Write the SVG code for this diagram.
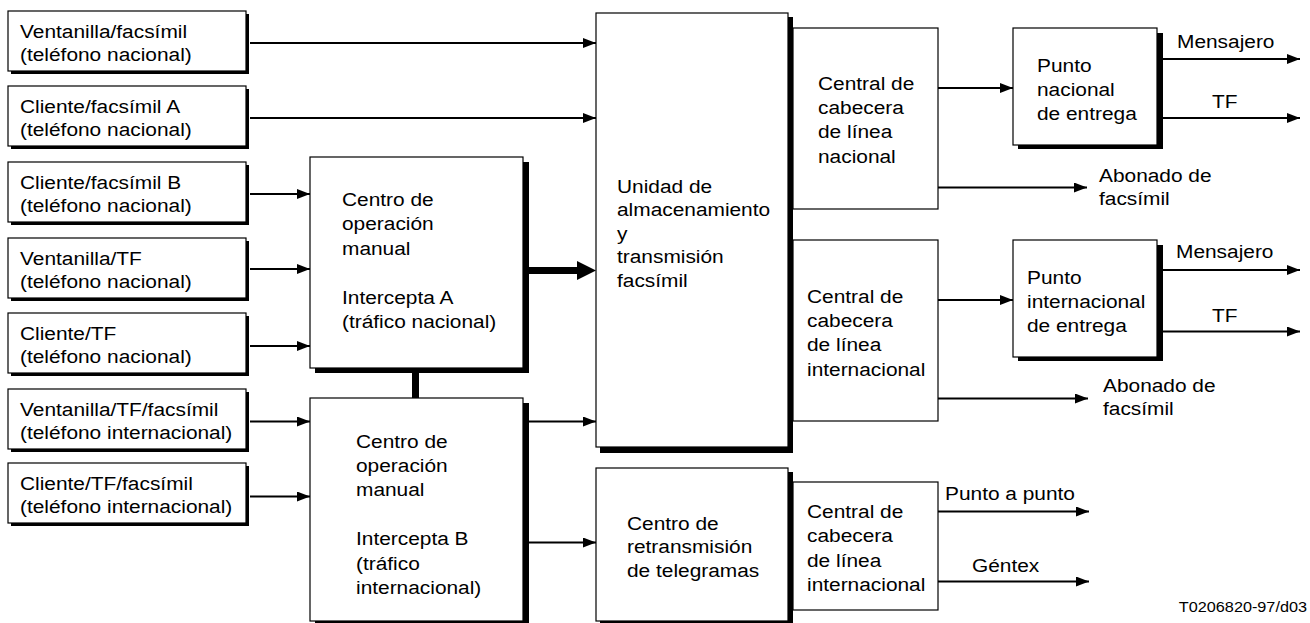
<svg xmlns="http://www.w3.org/2000/svg" width="1310" height="623" viewBox="0 0 1310 623">
<style>
.box{fill:#fff;stroke:#000;stroke-width:1.2}
.sh{fill:#000}
.t{font-family:"Liberation Sans",Arial,sans-serif;font-size:18px;fill:#000}
.s{font-family:"Liberation Sans",Arial,sans-serif;font-size:14px;fill:#000}
.ln{stroke:#000;stroke-width:2;fill:none}
</style>
<defs>
<marker id="ah" markerUnits="userSpaceOnUse" viewBox="0 0 13 10" refX="13" refY="5" markerWidth="13" markerHeight="10" orient="auto">
<path d="M0,0 L13,5 L0,10 z" fill="#000"/>
</marker>
</defs>
<rect width="1310" height="623" fill="#fff"/>

<g id="src1"><rect class="sh" x="11" y="14" width="238" height="60"/><rect class="box" x="8" y="11" width="238" height="60"/>
<text class="t" transform="matrix(1.16,0,0,1,20,37.5)"><tspan x="0" y="0">Ventanilla/facsímil</tspan><tspan x="0" y="24">(teléfono nacional)</tspan></text></g>
<g id="src2"><rect class="sh" x="11" y="89" width="238" height="60"/><rect class="box" x="8" y="86" width="238" height="60"/>
<text class="t" transform="matrix(1.16,0,0,1,20,112.5)"><tspan x="0" y="0">Cliente/facsímil A</tspan><tspan x="0" y="24">(teléfono nacional)</tspan></text></g>
<g id="src3"><rect class="sh" x="11" y="165" width="238" height="60"/><rect class="box" x="8" y="162" width="238" height="60"/>
<text class="t" transform="matrix(1.16,0,0,1,20,188.5)"><tspan x="0" y="0">Cliente/facsímil B</tspan><tspan x="0" y="24">(teléfono nacional)</tspan></text></g>
<g id="src4"><rect class="sh" x="11" y="241" width="238" height="60"/><rect class="box" x="8" y="238" width="238" height="60"/>
<text class="t" transform="matrix(1.16,0,0,1,20,264.5)"><tspan x="0" y="0">Ventanilla/TF</tspan><tspan x="0" y="24">(teléfono nacional)</tspan></text></g>
<g id="src5"><rect class="sh" x="11" y="316" width="238" height="60"/><rect class="box" x="8" y="313" width="238" height="60"/>
<text class="t" transform="matrix(1.16,0,0,1,20,339.5)"><tspan x="0" y="0">Cliente/TF</tspan><tspan x="0" y="24">(teléfono nacional)</tspan></text></g>
<g id="src6"><rect class="sh" x="11" y="392" width="238" height="60"/><rect class="box" x="8" y="389" width="238" height="60"/>
<text class="t" transform="matrix(1.16,0,0,1,20,415.5)"><tspan x="0" y="0">Ventanilla/TF/facsímil</tspan><tspan x="0" y="24">(teléfono internacional)</tspan></text></g>
<g id="src7"><rect class="sh" x="11" y="466" width="238" height="60"/><rect class="box" x="8" y="463" width="238" height="60"/>
<text class="t" transform="matrix(1.16,0,0,1,20,489.5)"><tspan x="0" y="0">Cliente/TF/facsímil</tspan><tspan x="0" y="24">(teléfono internacional)</tspan></text></g>

<g id="centroA"><rect class="sh" x="315" y="162" width="214" height="211"/><rect class="box" x="310" y="157" width="213" height="211"/>
<text class="t" transform="matrix(1.16,0,0,1,342,206)"><tspan x="0" y="0">Centro de</tspan><tspan x="0" y="24.5">operación</tspan><tspan x="0" y="49">manual</tspan><tspan x="0" y="98">Intercepta A</tspan><tspan x="0" y="122.5">(tráfico nacional)</tspan></text></g>
<g id="centroB"><rect class="sh" x="315" y="403" width="214" height="225"/><rect class="box" x="310" y="398" width="213" height="223"/>
<text class="t" transform="matrix(1.16,0,0,1,356,447.5)"><tspan x="0" y="0">Centro de</tspan><tspan x="0" y="24.5">operación</tspan><tspan x="0" y="49">manual</tspan><tspan x="0" y="98">Intercepta B</tspan><tspan x="0" y="122.5">(tráfico</tspan><tspan x="0" y="147">internacional)</tspan></text></g>

<g id="unidad"><rect class="sh" x="600" y="17" width="193" height="436"/><rect class="box" x="596" y="13" width="192" height="434"/>
<text class="t" transform="matrix(1.16,0,0,1,617,193)"><tspan x="0" y="0">Unidad de</tspan><tspan x="0" y="23.5">almacenamiento</tspan><tspan x="0" y="47">y</tspan><tspan x="0" y="70.5">transmisión</tspan><tspan x="0" y="94">facsímil</tspan></text></g>

<g id="retrans"><rect class="sh" x="600" y="472" width="193" height="155"/><rect class="box" x="596" y="468" width="192" height="153"/>
<text class="t" transform="matrix(1.16,0,0,1,627,529.5)"><tspan x="0" y="0">Centro de</tspan><tspan x="0" y="24">retransmisión</tspan><tspan x="0" y="48">de telegramas</tspan></text></g>

<g id="centralNac"><rect class="box" x="793" y="28" width="145" height="181"/>
<text class="t" transform="matrix(1.16,0,0,1,818,89.5)"><tspan x="0" y="0">Central de</tspan><tspan x="0" y="24.5">cabecera</tspan><tspan x="0" y="49">de línea</tspan><tspan x="0" y="73.5">nacional</tspan></text></g>
<g id="centralInt1"><rect class="box" x="793" y="240" width="145" height="181"/>
<text class="t" transform="matrix(1.16,0,0,1,807,302.5)"><tspan x="0" y="0">Central de</tspan><tspan x="0" y="24.5">cabecera</tspan><tspan x="0" y="49">de línea</tspan><tspan x="0" y="73.5">internacional</tspan></text></g>
<g id="centralInt2"><rect class="box" x="793" y="482" width="145" height="128"/>
<text class="t" transform="matrix(1.16,0,0,1,807,518)"><tspan x="0" y="0">Central de</tspan><tspan x="0" y="24.3">cabecera</tspan><tspan x="0" y="48.6">de línea</tspan><tspan x="0" y="73">internacional</tspan></text></g>

<g id="puntoNac"><rect class="sh" x="1018" y="33" width="145" height="116"/><rect class="box" x="1013" y="28" width="144" height="117"/>
<text class="t" transform="matrix(1.16,0,0,1,1037,72)"><tspan x="0" y="0">Punto</tspan><tspan x="0" y="24">nacional</tspan><tspan x="0" y="48">de entrega</tspan></text></g>
<g id="puntoInt"><rect class="sh" x="1018" y="245" width="145" height="116"/><rect class="box" x="1013" y="240" width="144" height="117"/>
<text class="t" transform="matrix(1.16,0,0,1,1027,284)"><tspan x="0" y="0">Punto</tspan><tspan x="0" y="24">internacional</tspan><tspan x="0" y="48">de entrega</tspan></text></g>

<g id="connectors">
<path class="ln" marker-end="url(#ah)" d="M250,43 H596"/>
<path class="ln" marker-end="url(#ah)" d="M250,118 H596"/>
<path class="ln" marker-end="url(#ah)" d="M250,194 H310"/>
<path class="ln" marker-end="url(#ah)" d="M250,269 H310"/>
<path class="ln" marker-end="url(#ah)" d="M250,346 H310"/>
<path class="ln" marker-end="url(#ah)" d="M250,421.5 H310"/>
<path class="ln" marker-end="url(#ah)" d="M250,496.5 H310"/>
<path d="M529,270.5 H579" stroke="#000" stroke-width="7"/>
<polygon points="577,261 596,270.5 577,280" fill="#000"/>
<path d="M415.5,372 V398" stroke="#000" stroke-width="7"/>
<path class="ln" marker-end="url(#ah)" d="M529,421.5 H596"/>
<path class="ln" marker-end="url(#ah)" d="M529,542.5 H596"/>
<path class="ln" marker-end="url(#ah)" d="M938,88 H1013"/>
<path class="ln" marker-end="url(#ah)" d="M938,187.5 H1087"/>
<path class="ln" marker-end="url(#ah)" d="M1163,59 H1300"/>
<path class="ln" marker-end="url(#ah)" d="M1163,118 H1300"/>
<path class="ln" marker-end="url(#ah)" d="M938,300 H1013"/>
<path class="ln" marker-end="url(#ah)" d="M938,398.5 H1088"/>
<path class="ln" marker-end="url(#ah)" d="M1163,270 H1300"/>
<path class="ln" marker-end="url(#ah)" d="M1163,331.5 H1300"/>
<path class="ln" marker-end="url(#ah)" d="M938,511.5 H1089"/>
<path class="ln" marker-end="url(#ah)" d="M938,581.5 H1089"/>
</g>

<g id="labels">
<text class="t" transform="matrix(1.16,0,0,1,1177,48)">Mensajero</text>
<text class="t" transform="matrix(1.16,0,0,1,1212,108)">TF</text>
<text class="t" transform="matrix(1.16,0,0,1,1099,181.5)"><tspan x="0" y="0">Abonado de</tspan><tspan x="0" y="24">facsímil</tspan></text>
<text class="t" transform="matrix(1.16,0,0,1,1176,258)">Mensajero</text>
<text class="t" transform="matrix(1.16,0,0,1,1212,321.5)">TF</text>
<text class="t" transform="matrix(1.16,0,0,1,1103,391.5)"><tspan x="0" y="0">Abonado de</tspan><tspan x="0" y="24">facsímil</tspan></text>
<text class="t" transform="matrix(1.16,0,0,1,945,500)">Punto a punto</text>
<text class="t" transform="matrix(1.16,0,0,1,972,571.5)">Géntex</text>
<text class="s" text-anchor="end" transform="matrix(1.16,0,0,1,1307,612)">T0206820-97/d03</text>
</g>
</svg>
